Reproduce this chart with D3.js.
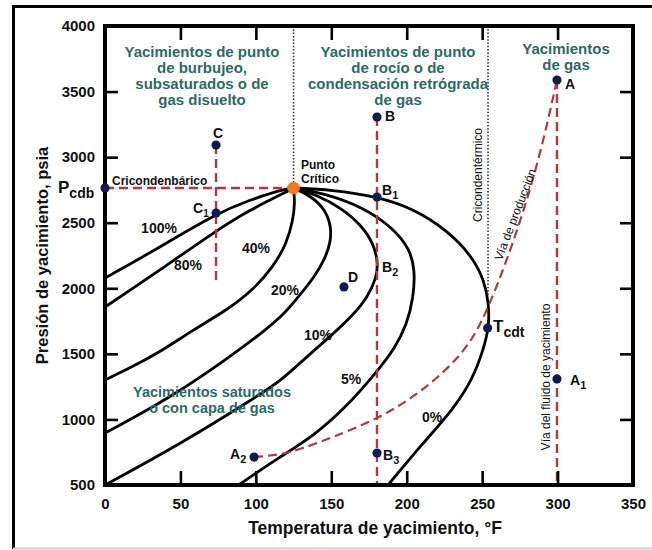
<!DOCTYPE html>
<html><head><meta charset="utf-8">
<script src="https://cdn.jsdelivr.net/npm/d3@7"></script>
<style>
body{margin:0;background:#fff}
svg{display:block}
text{font-family:"Liberation Sans",Arial,Helvetica,sans-serif}
</style>
</head><body>
<svg id="c" width="652" height="550"></svg>
<script>
// ---------- DATA (temperature °F, pressure psia) ----------
const tempTicks = [0, 50, 100, 150, 200, 250, 300, 350];
const presTicks = [500, 1000, 1500, 2000, 2500, 3000, 3500, 4000];
const criticalPoint = [125, 2765];
const qualityNames = ["100%", "80%", "40%", "20%", "10%", "5%", "0%"];
const q100 = [[0,2078],[29.8,2269],[74.2,2574],[96.1,2673],[116,2749],[125,2765]];
const q80  = [[0,1857],[29.8,2086],[74.2,2444],[96.1,2597],[116,2711],[125,2765]];
const q40  = [[125,2765],[125.9,2650],[124.6,2521],[120.6,2345],[111.4,2162],[98.1,1987],[80.9,1834],[58.3,1682],[36.5,1514],[16.6,1392],[0,1301]];
const q20  = [[125,2765],[137,2700],[146,2600],[150,2470],[149.5,2350],[146,2230],[139,2090],[130,1960],[119.3,1810],[107.4,1690],[80.9,1460],[41.1,1150],[0,896]];
const q10  = [[125,2765],[140,2715],[157,2610],[170,2480],[178,2340],[181,2200],[180,2080],[174,1930],[164,1790],[151,1650],[134,1480],[116,1290],[101.4,1180],[49.7,810],[0,500]];
const q5   = [[125,2765],[145,2725],[171,2620],[191,2460],[202,2300],[205.5,2140],[204.5,1930],[200,1720],[192,1540],[180.3,1365],[160.4,1100],[137.9,870],[116,715],[88.5,500]];
const q0   = [[125,2765],[150,2752],[180.3,2700],[205,2605],[227,2440],[243,2250],[251.5,2060],[254.5,1880],[254.5,1700],[251,1540],[243.9,1310],[230.7,1075],[210.8,820],[187.6,500]];
const productionPath = [[98.8,713],[116,730],[130,775],[150,860],[180,1000],[204,1165],[226,1370],[243,1590],[254,1850],[266,2200],[279,2640],[290,3090],[299.6,3588]];
const pathC = [[73.6,3092],[73.6,2063]];
const pathB = [[180.3,3306],[180.3,500]];
const pathA = [[299.6,3588],[299.6,500]];
const cricondenbar = [[0,2765],[125,2765]];
const critDotted = [[125,4000],[125,2765]];
const cricondentherm = [[253.9,4000],[253.9,1949]];
const pointNames = ["C","C1","B","B1","B3","D","A","A1","A2","Tcdt","Pcdb"];
const pointT = [73.6, 73.6, 180.3, 180.3, 180.3, 158.4, 299.6, 299.6, 98.8, 253.6, 0];
const pointP = [3092, 2574, 3306, 2696, 744, 2010, 3588, 1308, 713, 1697, 2765];

// ---------- DRAWING ----------
const svg = d3.select("#c");
const W = 652, H = 550;
const m = {l:105, r:633, t:26, b:485};
const x = d3.scaleLinear().domain([0,350]).range([m.l, m.r]);
const y = d3.scaleLinear().domain([500,4000]).range([m.b, m.t]);
const teal = "#2c6a66", red = "#b3383a", navy = "#0f1c4d";

// outer frame
svg.append("path").attr("d", `M13.5,549 V6.5 H${W}`).attr("fill","none").attr("stroke","#000").attr("stroke-width",3);
svg.append("line").attr("x1",13).attr("x2",W).attr("y1",548.5).attr("y2",548.5).attr("stroke","#cfcfcf").attr("stroke-width",2);

const line = d3.line().x(d=>x(d[0])).y(d=>y(d[1]));
const smooth = d3.line().x(d=>x(d[0])).y(d=>y(d[1])).curve(d3.curveBasis);

// quality curves
const g = svg.append("g");
[q100,q80,q40,q20,q10,q5,q0].forEach(c=>{
  g.append("path").attr("d", smooth(c)).attr("fill","none").attr("stroke","#000").attr("stroke-width",2.8);
});

// dashed red lines
[pathC, pathB, pathA, cricondenbar].forEach(p=>{
  g.append("path").attr("d", line(p)).attr("fill","none").attr("stroke",red).attr("stroke-width",2.4).attr("stroke-dasharray","9,5");
});
g.append("path").attr("d", smooth(productionPath)).attr("fill","none").attr("stroke",red).attr("stroke-width",2.2).attr("stroke-dasharray","9,5");

// dotted lines
[critDotted, cricondentherm].forEach(p=>{
  g.append("path").attr("d", line(p)).attr("fill","none").attr("stroke","#333").attr("stroke-width",1.6).attr("stroke-dasharray","1.5,1.8");
});

// axes
const fmt = d3.format("d");
const axL = d3.axisLeft(y).tickValues(presTicks).tickFormat(fmt).tickSizeInner(-13).tickSizeOuter(0).tickPadding(10);
const axR = d3.axisRight(y).tickValues(presTicks.slice(1,-1)).tickSizeInner(-13).tickSizeOuter(0).tickFormat("");
const axB = d3.axisBottom(x).tickValues(tempTicks).tickFormat(fmt).tickSizeInner(-14).tickSizeOuter(0).tickPadding(13);
const axT = d3.axisTop(x).tickValues(tempTicks.slice(1,-1)).tickSizeInner(-14).tickSizeOuter(0).tickFormat("");
function style(sel){
  sel.select(".domain").remove();
  sel.selectAll(".tick line").attr("stroke","#000").attr("stroke-width",2.6);
  sel.selectAll(".tick text").attr("font-size",15).attr("font-weight","bold").attr("fill","#111")
     .attr("font-family",'"Liberation Sans",Arial,sans-serif');
}
svg.append("g").attr("transform",`translate(${m.l},0)`).call(axL).call(style);
svg.append("g").attr("transform",`translate(${m.r},0)`).call(axR).call(style);
svg.append("g").attr("transform",`translate(0,${m.b})`).call(axB).call(style);
svg.append("g").attr("transform",`translate(0,${m.t})`).call(axT).call(style);
svg.append("rect").attr("x",m.l).attr("y",m.t).attr("width",m.r-m.l).attr("height",m.b-m.t)
  .attr("fill","none").attr("stroke","#000").attr("stroke-width",4);

// axis titles
svg.append("text").attr("x",(m.l+m.r)/2+6).attr("y",534).attr("text-anchor","middle")
  .attr("font-size",17.5).attr("font-weight","bold").attr("fill","#111").text("Temperatura de yacimiento, °F");
svg.append("text").attr("transform",`translate(48,${(m.t+m.b)/2}) rotate(-90)`).attr("text-anchor","middle")
  .attr("font-size",16.5).attr("font-weight","bold").attr("fill","#111").text("Presión de yacimiento, psia");

// points
pointNames.forEach((n,i)=>{
  svg.append("circle").attr("cx",x(pointT[i])).attr("cy",y(pointP[i])).attr("r",4.6).attr("fill",navy);
});
svg.append("circle").attr("cx",x(criticalPoint[0])).attr("cy",y(criticalPoint[1])).attr("r",6.3).attr("fill","#f47a1f");

// region titles
function block(lines, cx, y0, dy, size){
  const t = svg.append("text").attr("text-anchor","middle").attr("font-size",size).attr("font-weight","bold").attr("fill",teal);
  lines.forEach((l,i)=>t.append("tspan").attr("x",cx).attr("y",y0+i*dy).text(l));
}
block(["Yacimientos de punto","de burbujeo,","subsaturados o de","gas disuelto"], 202, 57, 16, 15);
block(["Yacimientos de punto","de rocío o de","condensación retrógrada","de gas"], 398, 57, 16, 15);
block(["Yacimientos","de gas"], 566, 54, 15.5, 15);
block(["Yacimientos saturados","o con capa de gas"], 212, 397, 15.5, 14.5);

// quality labels
const qPos = [[159,228],[188,265],[256,248],[285,290],[318,335],[351,379],[432,417]];
qualityNames.forEach((n,i)=>{
  svg.append("text").attr("x",qPos[i][0]).attr("y",qPos[i][1]+5).attr("text-anchor","middle")
    .attr("font-size",14).attr("font-weight","bold").attr("fill","#111").text(n);
});

// point labels (main letter + optional subscript)
function lab(px, py, main, sub, size, subSize, anchor){
  const t = svg.append("text").attr("x",px).attr("y",py).attr("font-size",size).attr("font-weight","bold")
    .attr("fill","#111").attr("text-anchor",anchor||"start");
  t.append("tspan").text(main);
  if(sub) t.append("tspan").attr("font-size",subSize).attr("dy",subSize*0.35).text(sub);
}
lab(218,138,"C",null,14,0,"middle");
lab(193,213,"C","1",14,10);
lab(385,121,"B",null,14);
lab(382,195,"B","1",14,11);
lab(382,272,"B","2",14,11);
lab(383,460,"B","3",14,11);
lab(348,282,"D",null,14);
lab(565,89,"A",null,14);
lab(570,385,"A","1",14,11);
lab(230,459,"A","2",14,11);
lab(493,332,"T","cdt",17,14);
lab(58,193,"P","cdb",17,14);

// small annotations
const small = (px,py,txt,size,weight,rot,anchor)=>{
  svg.append("text").attr("transform",`translate(${px},${py}) rotate(${rot||0})`).attr("text-anchor",anchor||"start")
    .attr("font-size",size).attr("font-weight",weight).attr("fill","#111").text(txt);
};
small(112,185,"Cricondenbárico",12,"bold");
small(301,169,"Punto",12,"bold");
small(301,183,"Crítico",12,"bold");
small(482,175,"Cricondentérmico",12,"normal",-90,"middle");
small(519,216,"Vía de producción",12,"normal",-69,"middle");
small(550,377,"Vía del fluido de yacimiento",12,"normal",-90,"middle");
</script>
</body></html>
